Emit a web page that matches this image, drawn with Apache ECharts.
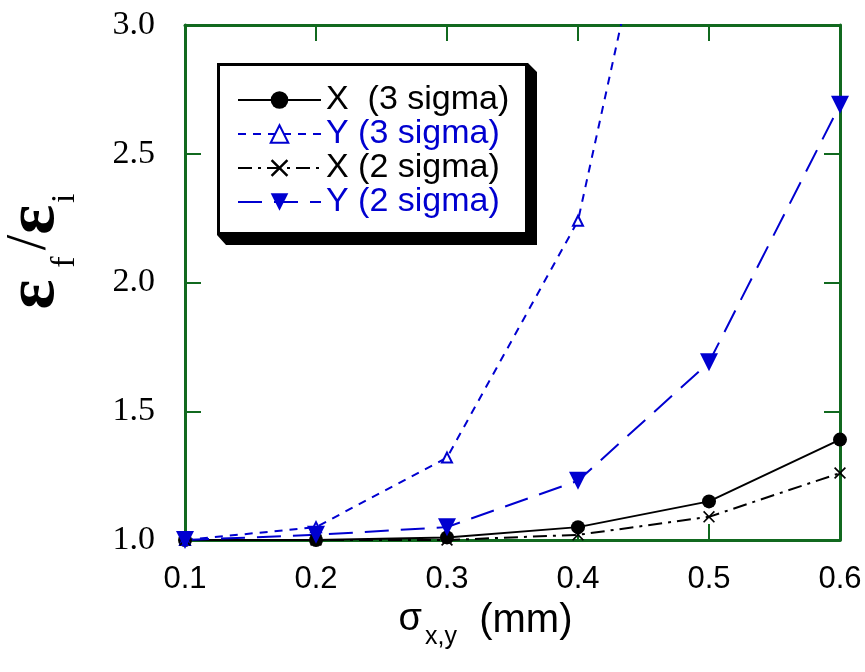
<!DOCTYPE html>
<html>
<head>
<meta charset="utf-8">
<script src="https://cdn.jsdelivr.net/npm/echarts@6/dist/echarts.min.js"></script>
<style>
  html, body { margin: 0; padding: 0; background: #fff; }
  #chartContainer { width: 865px; height: 672px; }
</style>
</head>
<body>
<div id="chartContainer"></div>
<script>
// sigma x,y (mm)
const sigma = [0.1, 0.2, 0.3, 0.4, 0.5, 0.6];
// emittance growth eps_f / eps_i
const x3Sigma = [1.00, 1.00, 1.01, 1.05, 1.15, 1.39];
const y3Sigma = [1.00, 1.05, 1.32, 2.24, 4.56, 7.60];
const x2Sigma = [1.00, 1.00, 1.00, 1.02, 1.09, 1.26];
const y2Sigma = [1.00, 1.02, 1.05, 1.23, 1.69, 2.69];
const seriesNames = ['X  (3 sigma)', 'Y (3 sigma)', 'X (2 sigma)', 'Y (2 sigma)'];

const green = '#11691f';
const blue = '#0000d0';
const crossPath = 'path://M0,1 L1,0 L5,4 L9,0 L10,1 L6,5 L10,9 L9,10 L5,6 L1,10 L0,9 L4,5 Z';

function pairs(ys) {
  return sigma.map((s, i) => [s, ys[i]]);
}

const frameAxis = {
  axisLine: { show: true, onZero: false, lineStyle: { color: green, width: 3 } },
  axisTick: { show: true, inside: true, length: 16, lineStyle: { color: green, width: 2 } },
  splitLine: { show: false }
};

const chart = echarts.init(document.getElementById('chartContainer'));

chart.setOption({
  animation: false,
  grid: { left: 185, right: 25, top: 25, bottom: 132, containLabel: false, outerBoundsMode: 'none' },
  xAxis: [
    Object.assign({
      type: 'value', min: 0.1, max: 0.6, interval: 0.1, position: 'bottom',
      axisLabel: {
        margin: 24, color: '#000', fontFamily: 'Liberation Sans', fontSize: 31,
        formatter: v => v.toFixed(1)
      },
      name: '{s|σ}{sub|x,y}{t|  (mm)}',
      nameLocation: 'middle',
      nameGap: 61,
      nameTextStyle: {
        padding: [0, 54, 0, 0],
        rich: {
          s: { fontFamily: 'Liberation Sans', fontSize: 38, color: '#000', verticalAlign: 'top' },
          sub: { fontFamily: 'Liberation Sans', fontSize: 25, color: '#000', verticalAlign: 'top', padding: [24, 0, 0, 3] },
          t: { fontFamily: 'Liberation Sans', fontSize: 40, color: '#000', verticalAlign: 'top' }
        }
      }
    }, frameAxis),
    Object.assign({
      type: 'value', min: 0.1, max: 0.6, interval: 0.1, position: 'top',
      axisLabel: { show: false }
    }, frameAxis)
  ],
  yAxis: [
    Object.assign({
      type: 'value', min: 1, max: 3, interval: 0.5, position: 'left',
      axisLabel: {
        margin: 30, color: '#000', fontFamily: 'Liberation Serif', fontSize: 34,
        formatter: v => v.toFixed(1)
      },
      name: '{e|ε}{sub|f}{sl|/}{e|ε}{sub2|i}',
      nameLocation: 'middle',
      nameRotate: 90,
      nameGap: 103,
      nameTextStyle: {
        padding: [0, 0, 0, 62],
        rich: {
          e: { fontFamily: 'Liberation Serif', fontSize: 70, fontWeight: 'bold', color: '#000', verticalAlign: 'top' },
          sl: { fontFamily: 'Liberation Serif', fontSize: 56, color: '#000', verticalAlign: 'top', padding: [2, 0, 0, 6] },
          sub: { fontFamily: 'Liberation Serif', fontSize: 34, color: '#000', verticalAlign: 'top', padding: [48, 0, 0, 12] },
          sub2: { fontFamily: 'Liberation Serif', fontSize: 34, color: '#000', verticalAlign: 'top', padding: [48, 0, 0, 2] }
        }
      }
    }, frameAxis),
    Object.assign({
      type: 'value', min: 1, max: 3, interval: 0.5, position: 'right',
      axisLabel: { show: false }
    }, frameAxis)
  ],
  // legend frame with its hard drop shadow
  graphic: [
    {
      type: 'polygon', z: 3,
      shape: { points: [[217, 235], [528, 235], [528, 63], [537, 72], [537, 245], [226, 245]] },
      style: { fill: '#000' }
    },
    {
      type: 'rect', z: 3,
      shape: { x: 218.5, y: 64.5, width: 308, height: 169 },
      style: { fill: '#fff', stroke: '#000', lineWidth: 3 }
    }
  ],
  legend: {
    orient: 'vertical',
    left: 217,
    top: 63,
    padding: [20, 18, 16, 20],
    itemWidth: 83,
    itemHeight: 22,
    itemGap: 0,
    textStyle: { fontFamily: 'Liberation Sans', fontSize: 34, lineHeight: 34 },
    data: [
      { name: seriesNames[0], textStyle: { color: '#000' } },
      { name: seriesNames[1], textStyle: { color: blue } },
      { name: seriesNames[2], textStyle: { color: '#000' } },
      { name: seriesNames[3], textStyle: { color: blue } }
    ]
  },
  series: [
    {
      name: seriesNames[0], type: 'line', data: pairs(x3Sigma),
      symbol: 'circle', symbolSize: 14,
      itemStyle: { color: '#000' },
      lineStyle: { color: '#000', width: 2, type: 'solid' }
    },
    {
      name: seriesNames[1], type: 'line', data: pairs(y3Sigma),
      symbol: 'emptyTriangle', symbolSize: 10,
      itemStyle: { color: blue, borderWidth: 1.5 },
      lineStyle: { color: blue, width: 2, type: [8, 7] }
    },
    {
      name: seriesNames[2], type: 'line', data: pairs(x2Sigma),
      symbol: crossPath, symbolSize: 12,
      itemStyle: { color: '#000' },
      lineStyle: { color: '#000', width: 2, type: [14, 6, 3, 6] }
    },
    {
      name: seriesNames[3], type: 'line', data: pairs(y2Sigma),
      symbol: 'triangle', symbolRotate: 180, symbolSize: 18,
      itemStyle: { color: blue },
      lineStyle: { color: blue, width: 2, type: [24, 12] }
    }
  ]
});
</script>
</body>
</html>
